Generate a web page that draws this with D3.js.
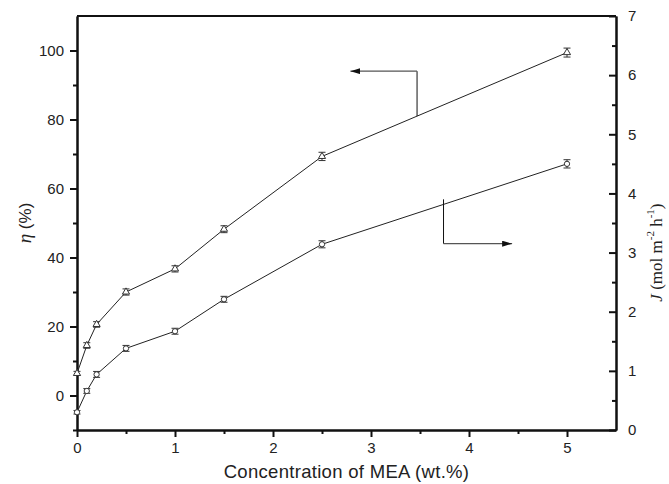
<!DOCTYPE html>
<html>
<head>
<meta charset="utf-8">
<script src="https://cdn.jsdelivr.net/npm/d3@7"></script>
<style>
  body { margin: 0; background: #fff; }
  svg { display: block; font-family: Arial, "Liberation Sans", sans-serif; }
</style>
</head>
<body>
<div id="chart"></div>
<script>
// data
let mea = [0, 0.1, 0.2, 0.5, 1, 1.5, 2.5, 5]
let eta = [6.4, 14.5, 20.6, 30.0, 36.7, 48.2, 69.3, 99.4]      // removal efficiency, left axis
let etaErr = [0.6, 0.8, 0.8, 0.9, 0.9, 1.0, 1.2, 1.3]
let flux = [0.30, 0.66, 0.94, 1.38, 1.67, 2.21, 3.14, 4.50]    // J, right axis
let fluxErr = [0.03, 0.04, 0.05, 0.05, 0.05, 0.05, 0.06, 0.07]

let xTicks = [0, 1, 2, 3, 4, 5]
let xMinor = [0.5, 1.5, 2.5, 3.5, 4.5]
let etaTicks = [0, 20, 40, 60, 80, 100]
let etaMinor = [-10, 10, 30, 50, 70, 90]
let fluxTicks = [0, 1, 2, 3, 4, 5, 6, 7]
let fluxMinor = [0.5, 1.5, 2.5, 3.5, 4.5, 5.5, 6.5]

// annotation arrows (data units): elbow point, line point, arrow tip
let etaArrow = {x: 3.47, y: 94, lineY: 81, tipX: 2.79}
let fluxArrow = {x: 3.74, y: 3.15, lineY: 3.90, tipX: 4.44}

let svgWidth = 669
let svgHeight = 484
let margin = {left: 77, right: 53, top: 16, bottom: 54}
let width = svgWidth - margin.left - margin.right
let height = svgHeight - margin.top - margin.bottom

let svg = d3.select('#chart')
    .append('svg')
    .attr('width', svgWidth)
    .attr('height', svgHeight)

let g = svg.append('g')
    .attr('transform', `translate(${margin.left},${margin.top})`)

let xScale = d3.scaleLinear().domain([0, 5.5]).range([0, width])
let yLeft = d3.scaleLinear().domain([-10, 110]).range([height, 0])
let yRight = d3.scaleLinear().domain([0, 7]).range([height, 0])

// arrowhead
svg.append('defs').append('marker')
    .attr('id', 'head')
    .attr('viewBox', '0 0 10 6')
    .attr('refX', 10).attr('refY', 3)
    .attr('markerWidth', 10).attr('markerHeight', 6)
    .attr('markerUnits', 'userSpaceOnUse')
    .attr('orient', 'auto')
    .append('path')
    .attr('d', 'M0,0 L10,3 L0,6 Z')
    .attr('fill', '#111')

// axes
let styleAxis = sel => {
    sel.selectAll('path').attr('stroke', '#111').attr('stroke-width', 2)
    sel.selectAll('line').attr('stroke', '#111').attr('stroke-width', 2)
    sel.selectAll('text').attr('font-size', 15).attr('fill', '#222')
        .attr('font-family', 'Arial, "Liberation Sans", sans-serif')
}

g.append('g').attr('transform', `translate(0,${height})`)
    .call(d3.axisBottom(xScale).tickValues(xTicks).tickFormat(d3.format('d')).tickSize(7).tickSizeOuter(0).tickPadding(5))
    .call(styleAxis)
g.append('g').attr('transform', `translate(0,${height})`)
    .call(d3.axisBottom(xScale).tickValues(xMinor).tickFormat('').tickSize(4).tickSizeOuter(0))
    .call(styleAxis)

g.append('g')
    .call(d3.axisLeft(yLeft).tickValues(etaTicks).tickFormat(d3.format('d')).tickSize(7).tickSizeOuter(0).tickPadding(6))
    .call(styleAxis)
g.append('g')
    .call(d3.axisLeft(yLeft).tickValues(etaMinor).tickFormat('').tickSize(4).tickSizeOuter(0))
    .call(styleAxis)

g.append('g').attr('transform', `translate(${width},0)`)
    .call(d3.axisRight(yRight).tickValues(fluxTicks).tickFormat(d3.format('d')).tickSize(-7).tickSizeOuter(0).tickPadding(12))
    .call(styleAxis)
g.append('g').attr('transform', `translate(${width},0)`)
    .call(d3.axisRight(yRight).tickValues(fluxMinor).tickFormat('').tickSize(-4).tickSizeOuter(0))
    .call(styleAxis)

// top frame line
g.append('line')
    .attr('x1', 0).attr('x2', width).attr('y1', 0).attr('y2', 0)
    .attr('stroke', '#111').attr('stroke-width', 2)

// series
let etaData = mea.map((m, i) => ({x: m, y: eta[i], e: etaErr[i]}))
let fluxData = mea.map((m, i) => ({x: m, y: flux[i], e: fluxErr[i]}))

let drawSeries = (data, yScale, shape) => {
    let line = d3.line().x(d => xScale(d.x)).y(d => yScale(d.y))
    g.append('path')
        .attr('d', line(data))
        .attr('fill', 'none')
        .attr('stroke', '#222')
        .attr('stroke-width', 1)

    let pts = g.append('g').selectAll('g')
        .data(data)
        .join('g')
        .attr('transform', d => `translate(${xScale(d.x)},${yScale(d.y)})`)

    // error bars
    pts.append('path')
        .attr('d', d => {
            let top = yScale(d.y + d.e) - yScale(d.y)
            let bot = yScale(d.y - d.e) - yScale(d.y)
            return `M-3.5,${top}H3.5M0,${top}V${bot}M-3.5,${bot}H3.5`
        })
        .attr('stroke', '#333')
        .attr('stroke-width', 1)
        .attr('fill', 'none')

    pts.append('path')
        .attr('d', d3.symbol().type(shape).size(22))
        .attr('fill', 'white')
        .attr('stroke', '#333')
        .attr('stroke-width', 1)
}

drawSeries(etaData, yLeft, d3.symbolTriangle)
drawSeries(fluxData, yRight, d3.symbolCircle)

// annotation arrows
let drawArrow = (a, yScale) => {
    g.append('line')
        .attr('x1', xScale(a.x)).attr('x2', xScale(a.x))
        .attr('y1', yScale(a.lineY)).attr('y2', yScale(a.y))
        .attr('stroke', '#111').attr('stroke-width', 1)
    g.append('line')
        .attr('x1', xScale(a.x)).attr('x2', xScale(a.tipX))
        .attr('y1', yScale(a.y)).attr('y2', yScale(a.y))
        .attr('stroke', '#555').attr('stroke-width', 1.2)
        .attr('marker-end', 'url(#head)')
}
drawArrow(etaArrow, yLeft)
drawArrow(fluxArrow, yRight)

// axis titles
svg.append('text')
    .attr('x', margin.left + xScale(2.75))
    .attr('y', 478)
    .attr('text-anchor', 'middle')
    .attr('font-size', 18.5)
    .attr('letter-spacing', 0.3)
    .attr('fill', '#222')
    .text('Concentration of MEA (wt.%)')

let leftTitle = svg.append('text')
    .attr('transform', `translate(31,${margin.top + yLeft(50)}) rotate(-90)`)
    .attr('text-anchor', 'middle')
    .attr('font-size', 17)
    .attr('fill', '#222')
leftTitle.append('tspan').attr('font-style', 'italic').attr('font-family', '"Liberation Serif", serif').attr('font-size', 19).text('η')
leftTitle.append('tspan').text(' (%)')

let rightTitle = svg.append('text')
    .attr('transform', `translate(662,${margin.top + yRight(3)}) rotate(-90)`)
    .attr('text-anchor', 'middle')
    .attr('font-family', '"Liberation Serif", "Times New Roman", serif')
    .attr('font-size', 17)
    .attr('fill', '#222')
rightTitle.append('tspan').attr('font-style', 'italic').text('J')
rightTitle.append('tspan').text(' (mol m')
rightTitle.append('tspan').attr('font-size', 11).attr('dy', -8).text('-2')
rightTitle.append('tspan').attr('dy', 8).text(' h')
rightTitle.append('tspan').attr('font-size', 11).attr('dy', -8).text('-1')
rightTitle.append('tspan').attr('dy', 8).text(')')
</script>
</body>
</html>
